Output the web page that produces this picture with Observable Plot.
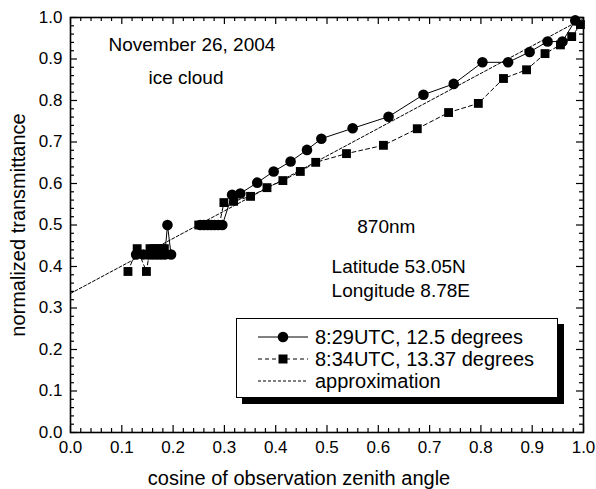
<!DOCTYPE html>
<html><head><meta charset="utf-8">
<script src="https://cdn.jsdelivr.net/npm/d3@7"></script>
<script src="https://cdn.jsdelivr.net/npm/@observablehq/plot@0.6"></script>
<style>
body{margin:0;background:#fff;font-family:"Liberation Sans",Arial,sans-serif;}
#wrap{position:relative;width:596px;height:489px;}
#legend{position:absolute;left:236px;top:318px;width:322px;height:80px;box-sizing:border-box;border:1px solid #000;background:#fff;box-shadow:6px 6px 0 #000;}
#legend svg{position:absolute;left:0;top:0;}
</style></head><body><div id="wrap"></div>
<script>
// 8:29UTC, 12.5 degrees (circles)
const circleX = [0.128,0.142,0.152,0.160,0.168,0.176,0.184,0.189,0.196,NaN,
  0.253,0.260,0.267,0.274,0.281,0.288,0.296,0.315,0.331,0.364,0.396,0.429,0.461,0.489,
  0.550,0.620,0.688,0.747,0.803,0.853,0.895,0.930,0.959,0.984];
const circleY = [0.429,0.429,0.429,0.429,0.429,0.429,0.429,0.500,0.429,NaN,
  0.500,0.500,0.500,0.500,0.500,0.500,0.500,0.573,0.576,0.602,0.629,0.653,0.681,0.708,
  0.733,0.761,0.814,0.840,0.892,0.892,0.917,0.942,0.942,0.993];
// 8:34UTC, 13.37 degrees (squares)
const squareX = [0.112,0.130,0.148,0.155,0.162,0.169,0.176,0.183,NaN,
  0.250,0.258,0.266,0.274,0.282,0.290,0.299,0.318,0.351,0.383,0.414,0.448,0.478,
  0.538,0.610,0.676,0.737,0.795,0.844,0.889,0.925,0.955,0.977,0.994];
const squareY = [0.388,0.443,0.388,0.443,0.443,0.443,0.443,0.443,NaN,
  0.500,0.500,0.500,0.500,0.500,0.500,0.554,0.557,0.569,0.590,0.607,0.629,0.651,
  0.672,0.692,0.732,0.771,0.793,0.853,0.874,0.913,0.934,0.954,0.983];
// approximation (straight line end points)
const approxX = [0, 1];
const approxY = [0.335, 0.998];
// ticks
const majorTicks = [0,0.1,0.2,0.3,0.4,0.5,0.6,0.7,0.8,0.9,1.0];
const minorTicks = [0.02,0.04,0.06,0.08,0.12,0.14,0.16,0.18,0.22,0.24,0.26,0.28,0.32,0.34,0.36,0.38,
  0.42,0.44,0.46,0.48,0.52,0.54,0.56,0.58,0.62,0.64,0.66,0.68,0.72,0.74,0.76,0.78,
  0.82,0.84,0.86,0.88,0.92,0.94,0.96,0.98];
const seriesNames = ["8:29UTC, 12.5 degrees","8:34UTC, 13.37 degrees","approximation"];

const toRows = (X, Y) => X.map((x, i) => ({x, y: Y[i]}));
const circles = toRows(circleX, circleY);
const squares = toRows(squareX, squareY);
const approx = toRows(approxX, approxY);

const W = 596, H = 489, mL = 70, mR = 13, mT = 17, mB = 57;
const iW = W - mL - mR, iH = H - mT - mB;
const tk = {stroke: "black", strokeWidth: 1.2};
const FONT = '"Liberation Sans", Arial, sans-serif';

const chart = Plot.plot({
  width: W, height: H,
  marginLeft: mL, marginRight: mR, marginTop: mT, marginBottom: mB,
  style: {fontFamily: FONT, fontSize: "17px", color: "black", background: "white"},
  x: {domain: [0, 1]},
  y: {domain: [0, 1]},
  marks: [
    Plot.line(approx, {x: "x", y: "y", stroke: "black", strokeWidth: 1, strokeDasharray: "3,2"}),
    Plot.line(squares, {x: "x", y: "y", stroke: "black", strokeWidth: 1, strokeDasharray: "4,3"}),
    Plot.line(circles, {x: "x", y: "y", stroke: "black", strokeWidth: 1}),
    Plot.dot(squares, {x: "x", y: "y", symbol: "square", r: 5, fill: "black", stroke: "none"}),
    Plot.dot(circles, {x: "x", y: "y", r: 5.3, fill: "black", stroke: "none"}),
    // inward ticks
    Plot.tickX(majorTicks, {x: d => d, insetTop: iH - 7, ...tk}),
    Plot.tickX(minorTicks, {x: d => d, insetTop: iH - 4, ...tk}),
    Plot.tickX(majorTicks, {x: d => d, insetBottom: iH - 7, ...tk}),
    Plot.tickX(minorTicks, {x: d => d, insetBottom: iH - 4, ...tk}),
    Plot.tickY(majorTicks, {y: d => d, insetRight: iW - 7, ...tk}),
    Plot.tickY(minorTicks, {y: d => d, insetRight: iW - 4, ...tk}),
    Plot.tickY(majorTicks, {y: d => d, insetLeft: iW - 7, ...tk}),
    Plot.tickY(minorTicks, {y: d => d, insetLeft: iW - 4, ...tk}),
    Plot.frame({stroke: "black", strokeWidth: 1.6}),
    Plot.axisX({ticks: majorTicks, tickSize: 0, tickPadding: 8, tickFormat: d3.format(".1f"), label: null}),
    Plot.axisY({ticks: majorTicks, tickSize: 0, tickPadding: 8, tickFormat: d3.format(".1f"), label: null}),
    Plot.text(["cosine of observation zenith angle"], {frameAnchor: "bottom", textAnchor: "middle", lineAnchor: "middle", dy: 46, dx: -28, fontSize: 20}),
    Plot.text(["normalized transmittance"], {frameAnchor: "left", textAnchor: "middle", lineAnchor: "middle", dx: -52, rotate: -90, fontSize: 20}),
    Plot.text(["November 26, 2004"], {x: 0.074, y: 0.933, textAnchor: "start", fontSize: 19}),
    Plot.text(["ice cloud"], {x: 0.152, y: 0.855, textAnchor: "start", fontSize: 19}),
    Plot.text(["870nm"], {x: 0.559, y: 0.496, textAnchor: "start", fontSize: 19}),
    Plot.text(["Latitude 53.05N"], {x: 0.509, y: 0.398, textAnchor: "start", fontSize: 19}),
    Plot.text(["Longitude 8.78E"], {x: 0.509, y: 0.342, textAnchor: "start", fontSize: 19})
  ]
});
const wrap = document.getElementById("wrap");
wrap.appendChild(chart);

// legend overlay
const leg = document.createElement("div");
leg.id = "legend";
wrap.appendChild(leg);
const svg = d3.select(leg).append("svg").attr("width", 320).attr("height", 78);
const rowsY = [18, 40, 62];
const dashes = [null, "4,3", "3,2"];
seriesNames.forEach((name, i) => {
  const g = svg.append("g").attr("transform", `translate(0,${rowsY[i]})`);
  g.append("line").attr("x1", 21).attr("x2", 71).attr("y1", 0).attr("y2", 0)
    .attr("stroke", "black").attr("stroke-width", 1).attr("stroke-dasharray", dashes[i]);
  if (i === 0) g.append("circle").attr("cx", 46).attr("cy", 0).attr("r", 5.3).attr("fill", "black");
  if (i === 1) g.append("rect").attr("x", 41.5).attr("y", -4.5).attr("width", 9).attr("height", 9).attr("fill", "black");
  g.append("text").attr("x", 78).attr("y", 0).attr("dy", "0.35em")
    .attr("font-size", 20).attr("font-family", FONT).text(name);
});
</script>
</body></html>
